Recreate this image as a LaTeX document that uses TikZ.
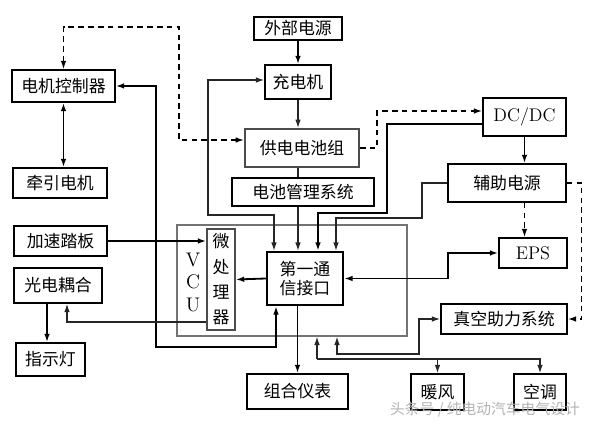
\documentclass[tikz,border=0pt]{standalone}
\usepackage{fontspec}
\newfontfamily\cjk{Noto Sans CJK SC}
\usetikzlibrary{arrows.meta,
                calc,
                positioning}

\begin{document}
\begin{tikzpicture}[x=0.025cm,y=-0.025cm,
  box/.style={draw,line width=1.1pt,inner sep=1pt,font=\cjk\fontsize{12}{14}\selectfont},
  latin/.style={font=\rmfamily\fontsize{13}{15}\selectfont},
  frame/.style={draw=black!55,line width=0.8pt},
  thk/.style={line width=1.3pt},
  ln/.style={line width=0.9pt,black!85},
  dsh/.style={line width=1pt,dash pattern=on 4pt off 3pt},
  >={Latex[length=6pt,width=4pt]}]
\useasboundingbox (0,0) rectangle (599,425);

\node[frame,minimum width=5.75cm,minimum height=2.775cm] (vcu) at (292,280.5) {};
\node[align=center,font=\rmfamily\fontsize{14}{16}\selectfont] (vcutxt) at (193,282) {V\\C\\U};

\node[box,minimum width=2.2cm,minimum height=0.575cm] (wbdy) at (298,28.5) {外部电源};
\node[box,minimum width=1.65cm,minimum height=0.85cm] (cdj) at (298,82) {充电机};
\node[box,draw=black!70,line width=1.4pt,minimum width=2.85cm,minimum height=0.95cm] (gddc) at (302,148) {供电电池组};
\node[box,minimum width=3.55cm,minimum height=0.7cm] (bms) at (303,192) {电池管理系统};
\node[box,line width=1.6pt,align=center,minimum width=1.9cm,minimum height=1.325cm] (jk) at (305,278.5) {第一通\\信接口};
\node[box,draw=black!70,align=center,font=\cjk\fontsize{12}{18}\selectfont,minimum width=0.7cm,minimum height=2.525cm] (wcl) at (221,279.5) {微\\处\\理\\器};

\node[box,minimum width=2.575cm,minimum height=0.8cm] (djkz) at (63.5,86) {电机控制器};
\node[box,minimum width=2.35cm,minimum height=0.75cm] (qydj) at (60,183) {牵引电机};
\node[box,minimum width=2.325cm,minimum height=0.75cm] (jstb) at (60.5,241) {加速踏板};
\node[box,minimum width=2.2cm,minimum height=0.875cm] (gdoh) at (58,285.5) {光电耦合};
\node[box,minimum width=1.725cm,minimum height=0.825cm] (zsd) at (50.5,359.5) {指示灯};
\node[box,minimum width=2.525cm,minimum height=0.875cm] (zhyb) at (297.5,391.5) {组合仪表};

\node[box,latin,minimum width=2.075cm,minimum height=0.95cm] (dcdc) at (524.5,117) {DC/DC};
\node[box,minimum width=2.95cm,minimum height=0.95cm] (fzdy) at (507,183) {辅助电源};
\node[box,latin,minimum width=1.7cm,minimum height=0.75cm] (eps) at (533,253) {EPS};
\node[box,minimum width=3.15cm,minimum height=0.75cm] (zkzl) at (504,319) {真空助力系统};
\node[box,minimum width=1.325cm,minimum height=0.9cm] (nf) at (437.5,392) {暖风};
\node[box,minimum width=1.3cm,minimum height=0.9cm] (kt) at (540,392) {空调};

\draw[thk,->] (wbdy) -- (cdj);
\draw[ln,->] (cdj.south) -- (cdj.south |- gddc.north);
\draw[ln] (cdj.south |- gddc.south) -- (cdj.south |- bms.north);
\draw[ln,->] (cdj.south |- bms.south) -- (cdj.south |- jk.north);
\draw[ln,<->] ($(cdj.west)+(0,-2)$) -| (208,215) -| ($(jk.north)+(-31,0)$);
\draw[thk,->] ($(dcdc.west)+(0,7)$) -| (387,213) -| ($(jk.north)+(13,0)$);
\draw[ln,->] (fzdy.west) -| (422,218) -| ($(jk.north)+(31,0)$);

\draw[dsh,->] (gddc.east) -- ++(17,0) |- ($(dcdc.west)+(0,-6)$);
\draw[dsh,<->] (djkz.north) |- (179,27) |- ($(gddc.west)+(0,-8)$);
\draw[thk,<->] (djkz.south) -- (djkz.south |- qydj.north);
\draw[thk,<->] (djkz.east) -| (156,347) -| ($(jk.south)+(-29,0)$);

\draw[thk,->] (dcdc.south) -- (dcdc.south |- fzdy.north);
\draw[dsh,->] (dcdc.south |- fzdy.south) -- (dcdc.south |- eps.north);
\draw[dsh,->] (fzdy.east) -- ++(15,0) |- (zkzl.east);
\draw[thk,<->] (jk.east) -- ++(104,0) |- (eps.west);
\draw[ln,<->] (zkzl.west) -| (419,354) -| ($(vcu.south)+(45,0)$);

\coordinate (bus) at (317,359);
\draw[ln,->] (bus) -- (bus |- vcu.south);
\draw[ln,->] (bus) -| (nf.north);
\draw[ln,->] (bus) -| (kt.north);

\draw[thk,->] (zhyb.north |- jk.south) -- (zhyb.north);
\draw[thk,->] (jk.west) -- (wcl.east);
\draw[thk,->] (jstb.east) -- (jstb.east -| wcl.west);
\draw[ln,->] ($(wcl.west)+(0,42.5)$) -| ($(gdoh.south)+(9,0)$);
\draw[thk,->] ($(gdoh.south)+(-11,0)$) -- ($(zsd.north)+(-3.5,0)$);

\node[text=black!30,font=\cjk\fontsize{10.5}{12}\selectfont] (mark) at (485,410) {头条号 / 纯电动汽车电气设计};

\end{tikzpicture}
\end{document}
